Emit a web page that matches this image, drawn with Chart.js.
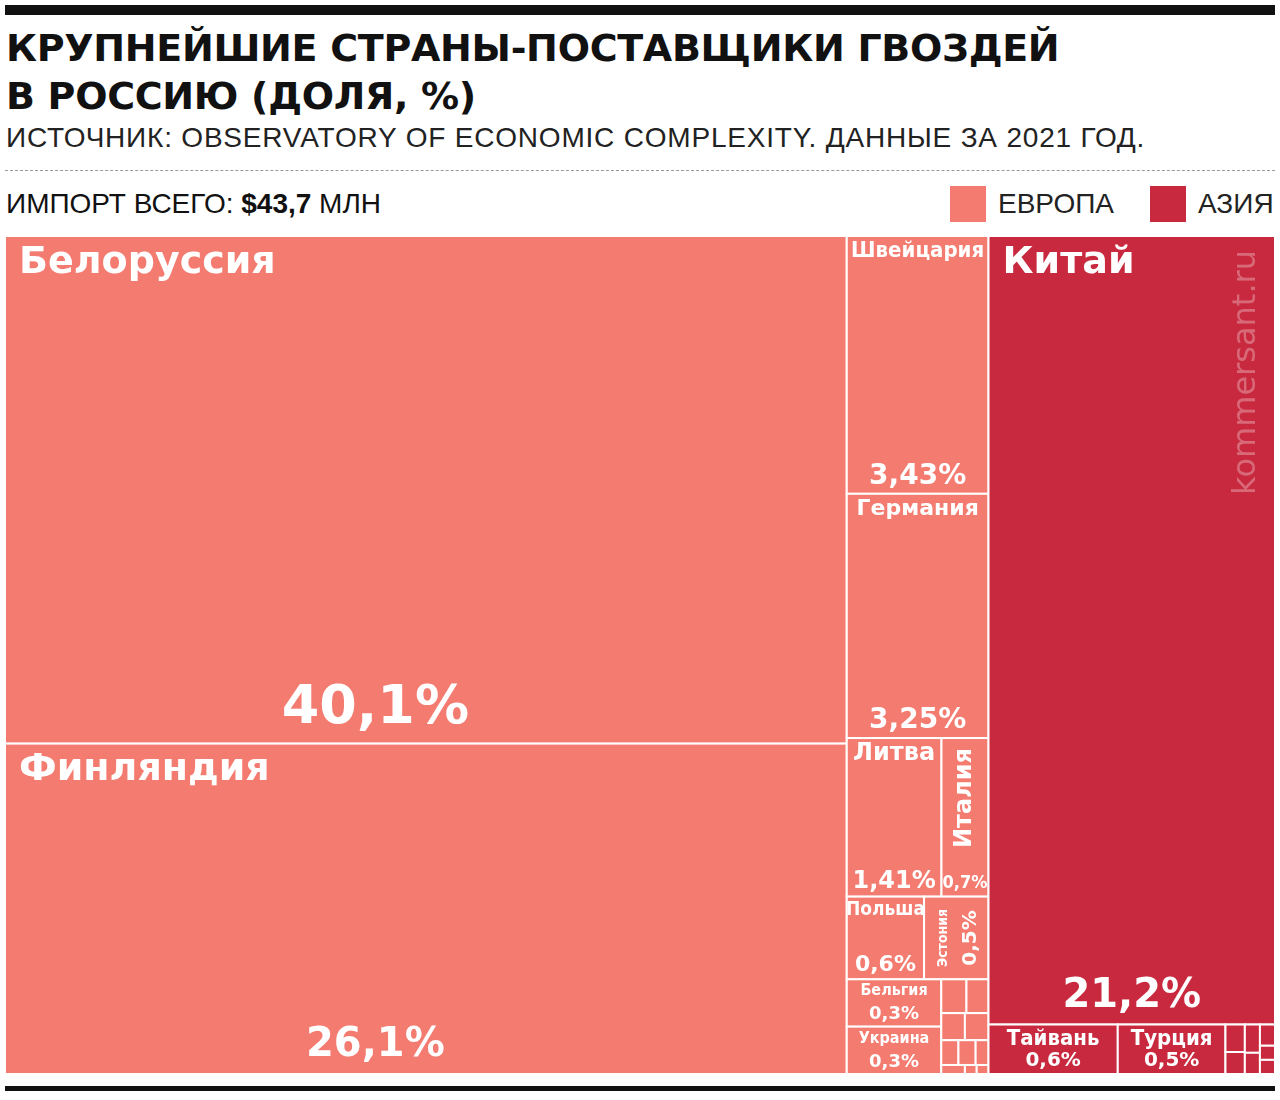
<!DOCTYPE html>
<html>
<head>
<meta charset="utf-8">
<script src="https://cdn.jsdelivr.net/npm/chart.js@4"></script>
<style>
  body { margin: 0; width: 1280px; height: 1100px; background: #fff; font-family: "Liberation Sans", Arial, sans-serif; position: relative; overflow: hidden; }
  .bar { position: absolute; left: 5px; width: 1270px; background: #111; }
  h1 { position: absolute; left: 6px; top: 24px; margin: 0; font: 900 38px/48px "DejaVu Sans", sans-serif; letter-spacing: -0.3px; color: #111; }
  .sub { position: absolute; left: 6px; top: 122px; font-size: 28px; color: #222; letter-spacing: 0.8px; }
  .dash { position: absolute; left: 5px; top: 170px; width: 1270px; border-top: 1.5px dashed #999; }
  .total { position: absolute; left: 6px; top: 188px; font-size: 28px; color: #111; }
  .legend { position: absolute; top: 186px; font-size: 28px; color: #222; display: flex; align-items: center; }
  .legend span.box { width: 36px; height: 36px; margin-right: 12px; display: inline-block; }
  #wrap { position: absolute; left: 3px; top: 234px; width: 1274px; height: 842px; }
</style>
</head>
<body>
<div class="bar" style="top:5px;height:10px"></div>
<h1>КРУПНЕЙШИЕ СТРАНЫ-ПОСТАВЩИКИ ГВОЗДЕЙ<br>В РОССИЮ (ДОЛЯ, %)</h1>
<div class="sub">ИСТОЧНИК: OBSERVATORY OF ECONOMIC COMPLEXITY. ДАННЫЕ ЗА 2021 ГОД.</div>
<div class="dash"></div>
<div class="total">ИМПОРТ ВСЕГО: <b>$43,7</b> МЛН</div>
<div class="legend" style="left:950px"><span class="box" style="background:#f47b6f"></span>ЕВРОПА</div>
<div class="legend" style="left:1150px"><span class="box" style="background:#c8293e"></span>АЗИЯ</div>
<div id="wrap"><canvas id="chart"></canvas></div>
<div class="bar" style="top:1086px;height:5px"></div>
<script>
const EU = "#f47b6f";
const AS = "#c8293e";

// вложенная раскладка: dir "h" — делим по ширине, "v" — по высоте
const tree = {
  dir: "h",
  children: [
    { dir: "v", children: [
      { name: "Белоруссия", value: 40.1, label: "40,1%", color: EU, nf: 38, pf: 54 },
      { name: "Финляндия", value: 26.1, label: "26,1%", color: EU, nf: 38, pf: 40 },
    ]},
    { dir: "v", children: [
      { name: "Швейцария", value: 3.43, label: "3,43%", color: EU, nf: 22, pf: 28, cond: true },
      { name: "Германия", value: 3.25, label: "3,25%", color: EU, nf: 22, pf: 28 },
      { dir: "h", children: [
        { name: "Литва", value: 1.41, label: "1,41%", color: EU, nf: 24, pf: 24 },
        { name: "Италия", value: 0.7, label: "0,7%", color: EU, nf: 24, pf: 18, rot: true },
      ]},
      { dir: "h", children: [
        { name: "Польша", value: 0.6, label: "0,6%", color: EU, nf: 19, pf: 22, cond: true },
        { name: "Эстония", value: 0.5, label: "0,5%", color: EU, nf: 14, pf: 20, rot: true, cond: true },
      ]},
      { dir: "h", children: [
        { dir: "v", children: [
          { name: "Бельгия", value: 0.42, label: "0,3%", color: EU, nf: 16, pf: 18, cond: true },
          { name: "Украина", value: 0.42, label: "0,3%", color: EU, nf: 16, pf: 18, cond: true },
        ]},
        { dir: "v", children: [
          { dir: "h", children: [{ value: 0.08, color: EU }, { value: 0.07, color: EU }] },
          { dir: "h", children: [{ value: 0.06, color: EU }, { value: 0.06, color: EU }] },
          { dir: "h", children: [{ value: 0.04, color: EU }, { value: 0.04, color: EU }, { value: 0.03, color: EU }] },
          { dir: "h", children: [{ value: 0.02, color: EU }, { value: 0.01, color: EU }, { value: 0.01, color: EU }] },
        ]},
      ]},
    ]},
    { dir: "v", children: [
      { name: "Китай", value: 21.2, label: "21,2%", color: AS, nf: 38, pf: 40, mark: true },
      { dir: "h", children: [
        { name: "Тайвань", value: 0.6, label: "0,6%", color: AS, nf: 22, pf: 20, cond: true },
        { name: "Турция", value: 0.5, label: "0,5%", color: AS, nf: 22, pf: 20, cond: true },
        { dir: "h", children: [
          { dir: "v", children: [{ value: 0.05, color: AS }, { value: 0.04, color: AS }] },
          { dir: "v", children: [{ value: 0.04, color: AS }, { value: 0.03, color: AS }] },
          { dir: "v", children: [{ value: 0.03, color: AS }, { value: 0.02, color: AS }, { value: 0.02, color: AS }] },
        ]},
      ]},
    ]},
  ],
};

function total(n) {
  return n.children ? n.children.reduce((s, c) => s + total(c), 0) : n.value;
}

const leaves = [];
function layout(n, x, y, w, h) {
  if (!n.children) { leaves.push({ ...n, x, y, w, h }); return; }
  const t = total(n);
  let off = 0;
  n.children.forEach((c) => {
    const f = total(c) / t;
    if (n.dir === "h") layout(c, x + off * w, y, w * f, h);
    else layout(c, x, y + off * h, w, h * f);
    off += f;
  });
}
layout(tree, 0, 0, 100, 100);

const treemapPlugin = {
  id: "treemap",
  afterDatasetsDraw(chart) {
    const { ctx, scales } = chart;
    const sx = scales.x, sy = scales.y;
    leaves.forEach((r) => {
      const x0 = sx.getPixelForValue(r.x), x1 = sx.getPixelForValue(r.x + r.w);
      const y0 = sy.getPixelForValue(r.y), y1 = sy.getPixelForValue(r.y + r.h);
      const w = x1 - x0, h = y1 - y0;
      ctx.fillStyle = r.color;
      ctx.fillRect(x0, y0, w, h);
      ctx.strokeStyle = "#fff";
      ctx.lineWidth = 2;
      ctx.strokeRect(x0, y0, w, h);
      if (!r.name) return;
      const fam = r.cond ? '"Liberation Sans Narrow", "DejaVu Sans Condensed", sans-serif' : '"DejaVu Sans", sans-serif';
      ctx.fillStyle = "#fff";
      ctx.save();
      if (r.name === "Эстония") {
        ctx.translate(x0 + w * 0.3, y0 + h / 2);
        ctx.rotate(-Math.PI / 2);
        ctx.textAlign = "center";
        ctx.textBaseline = "middle";
        ctx.font = `bold ${r.nf}px ${fam}`;
        ctx.fillText(r.name, 0, 0);
        ctx.font = `900 ${r.pf}px "DejaVu Sans", sans-serif`;
        ctx.fillText(r.label, 0, w * 0.42);
        ctx.restore();
        return;
      }
      if (r.rot) {
        ctx.translate(x0 + w / 2, y0 + 6);
        ctx.rotate(-Math.PI / 2);
        ctx.textAlign = "right";
        ctx.textBaseline = "middle";
        ctx.font = `bold ${r.nf}px ${fam}`;
        ctx.fillText(r.name, -4, 0);
        ctx.restore();
        ctx.save();
        ctx.font = `bold ${r.pf}px "DejaVu Sans Condensed", sans-serif`;
        ctx.textAlign = "center";
        ctx.textBaseline = "bottom";
        ctx.fillText(r.label, (x0 + x1) / 2, y1 - 4);
        ctx.restore();
        return;
      }
      const big = r.nf >= 30;
      ctx.font = `bold ${r.nf}px ${fam}`;
      ctx.textAlign = big ? "left" : "center";
      ctx.textBaseline = "top";
      ctx.fillText(r.name, big ? x0 + 14 : (x0 + x1) / 2, y0 + (big ? 8 : 4));
      ctx.font = `900 ${r.pf}px "DejaVu Sans", sans-serif`;
      ctx.textAlign = "center";
      ctx.textBaseline = "bottom";
      const cx = big ? x0 + w * 0.44 : (x0 + x1) / 2;
      ctx.fillText(r.label, r.name === "Китай" ? (x0 + x1) / 2 : cx, y1 - (big ? 8 : 3));
      if (r.mark) {
        ctx.translate(x1 - 28, y0 + 14);
        ctx.rotate(-Math.PI / 2);
        ctx.font = '32px "DejaVu Sans", sans-serif';
        ctx.textAlign = "right";
        ctx.textBaseline = "middle";
        ctx.fillStyle = "rgba(255,255,255,0.3)";
        ctx.fillText("kommersant.ru", 0, 0);
      }
      ctx.restore();
    });
  },
};

const ctx = document.getElementById("chart").getContext("2d");
new Chart(ctx, {
  type: "scatter",
  data: { datasets: [{ data: [] }] },
  options: {
    responsive: true,
    maintainAspectRatio: false,
    animation: false,
    layout: { padding: 2 },
    plugins: { legend: { display: false }, tooltip: { enabled: false } },
    scales: {
      x: { type: "linear", min: 0, max: 100, display: false },
      y: { type: "linear", min: 0, max: 100, reverse: true, display: false },
    },
  },
  plugins: [treemapPlugin],
});
</script>
</body>
</html>
